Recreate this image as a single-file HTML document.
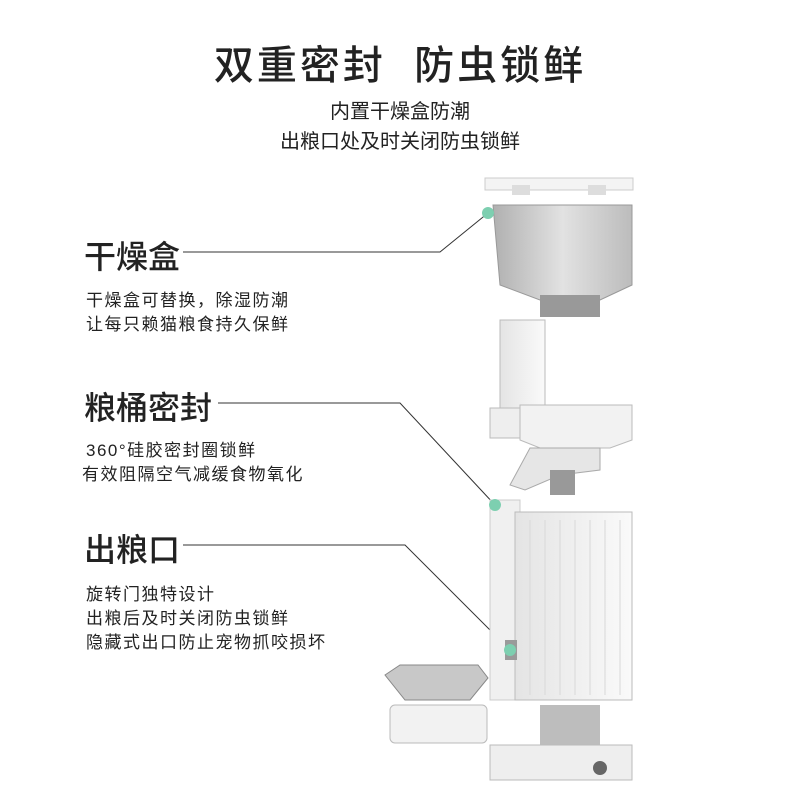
<!DOCTYPE html>
<html><head><meta charset="utf-8"><style>
body{margin:0;width:800px;height:800px;background:#fff;position:relative;overflow:hidden;font-family:"Liberation Sans","Noto Sans CJK SC",sans-serif;color:#222}
.a{position:absolute;white-space:nowrap}
.t{font-size:40px;letter-spacing:3px;top:33px;left:0;width:800px;text-align:center;font-weight:500}
.s{font-size:20px;left:0;width:800px;text-align:center}
.h{font-size:32px;left:84px;font-weight:500}
.d{font-size:17px;left:86px;letter-spacing:1.5px}
</style></head><body>
<div class="a t">双重密封&nbsp; 防虫锁鲜</div>
<div class="a s" style="top:95px">内置干燥盒防潮</div>
<div class="a s" style="top:125px">出粮口处及时关闭防虫锁鲜</div>
<div class="a h" style="top:232px">干燥盒</div>
<div class="a d" style="top:286px">干燥盒可替换，除湿防潮</div>
<div class="a d" style="top:310px">让每只赖猫粮食持久保鲜</div>
<div class="a h" style="top:383px">粮桶密封</div>
<div class="a d" style="top:436px">360°硅胶密封圈锁鲜</div>
<div class="a d" style="top:460px;left:82px">有效阻隔空气减缓食物氧化</div>
<div class="a h" style="top:525px">出粮口</div>
<div class="a d" style="top:580px">旋转门独特设计</div>
<div class="a d" style="top:604px">出粮后及时关闭防虫锁鲜</div>
<div class="a d" style="top:628px">隐藏式出口防止宠物抓咬损坏</div>
<svg class="a" style="left:0;top:0" width="800" height="800">
<defs>
<linearGradient id="g1" x1="0" x2="1"><stop offset="0" stop-color="#b0b0b0"/><stop offset=".5" stop-color="#e2e2e2"/><stop offset="1" stop-color="#bcbcbc"/></linearGradient>
<linearGradient id="g2" x1="0" x2="1"><stop offset="0" stop-color="#e4e4e4"/><stop offset="1" stop-color="#fafafa"/></linearGradient>
</defs>
<g fill="none" stroke="#333" stroke-width="1">
<polyline points="183,252 440,252 488,213"/>
<polyline points="218,403 400,403 495,505"/>
<polyline points="183,545 405,545 510,650"/>
</g>
<rect x="485" y="178" width="148" height="12" fill="#f4f4f4" stroke="#ccc"/>
<rect x="512" y="185" width="18" height="10" fill="#ddd"/><rect x="588" y="185" width="18" height="10" fill="#ddd"/>
<path d="M493 205 H632 V285 L600 300 H540 L500 285 Z" fill="url(#g1)" stroke="#999"/>
<rect x="540" y="295" width="60" height="22" fill="#999"/>
<rect x="500" y="320" width="45" height="110" fill="url(#g2)" stroke="#bbb"/>
<rect x="490" y="408" width="32" height="30" fill="#eee" stroke="#bbb"/>
<path d="M520 405 H632 V440 L610 448 H540 L520 440 Z" fill="#f2f2f2" stroke="#bbb"/>
<path d="M530 448 H600 V470 L560 475 L525 490 L510 485 Z" fill="#e6e6e6" stroke="#aaa"/>
<rect x="550" y="470" width="25" height="25" fill="#999"/>
<rect x="490" y="500" width="30" height="200" fill="#f0f0f0" stroke="#ccc"/>
<rect x="515" y="512" width="117" height="188" fill="url(#g2)" stroke="#bbb"/>
<g stroke="#d8d8d8"><line x1="530" y1="520" x2="530" y2="695"/><line x1="545" y1="520" x2="545" y2="695"/><line x1="560" y1="520" x2="560" y2="695"/><line x1="575" y1="520" x2="575" y2="695"/><line x1="590" y1="520" x2="590" y2="695"/><line x1="605" y1="520" x2="605" y2="695"/><line x1="620" y1="520" x2="620" y2="695"/></g>
<rect x="505" y="640" width="12" height="20" fill="#9a9a9a"/>
<path d="M385 675 L400 665 H478 L488 678 L470 700 H405 Z" fill="#c8c8c8" stroke="#888"/>
<rect x="390" y="705" width="97" height="38" rx="5" fill="#f2f2f2" stroke="#bbb"/>
<rect x="540" y="705" width="60" height="40" fill="#bdbdbd"/>
<path d="M490 745 H632 V780 H490 Z" fill="#eee" stroke="#bbb"/>
<circle cx="600" cy="768" r="7" fill="#666"/>
<g fill="#7dcfb0"><circle cx="488" cy="213" r="6"/><circle cx="495" cy="505" r="6"/><circle cx="510" cy="650" r="6"/></g>
</svg>
</body></html>
